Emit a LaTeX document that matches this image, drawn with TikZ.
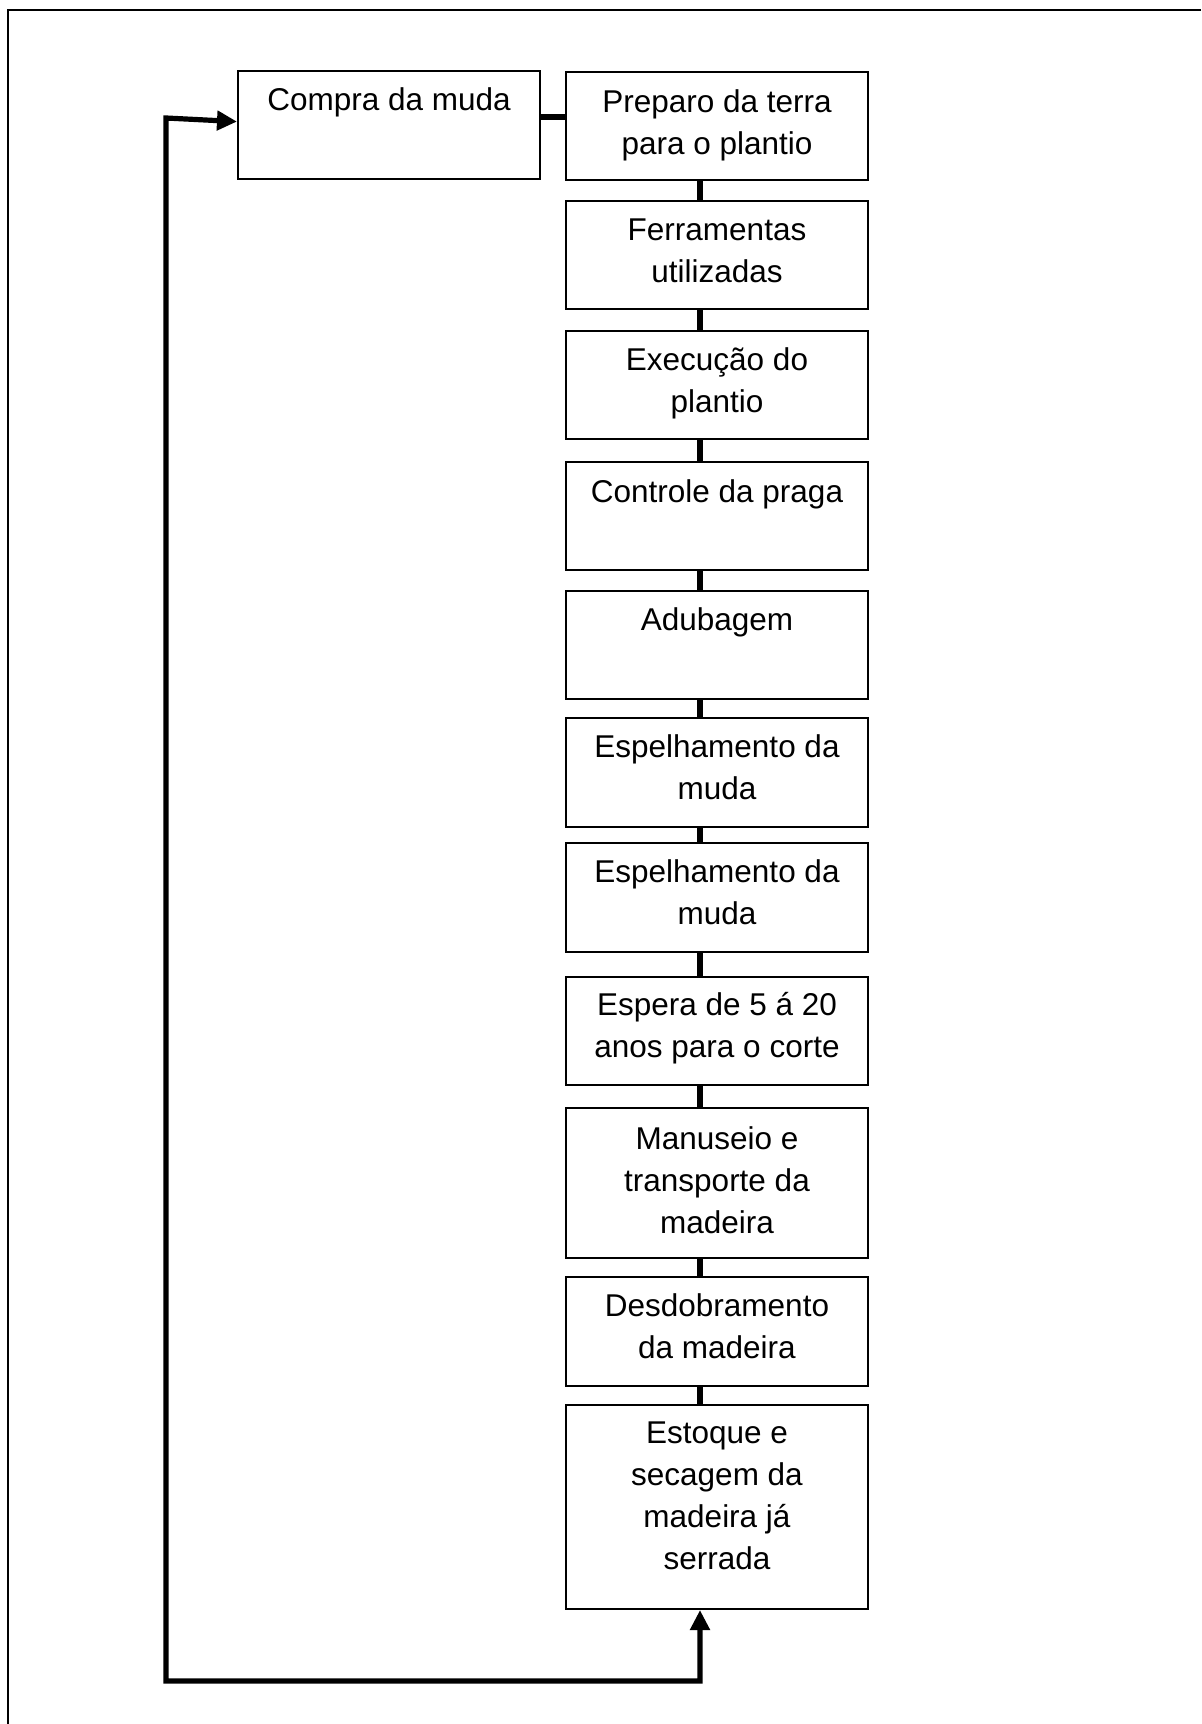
\documentclass[tikz,border=0pt]{standalone}
\usepackage{fontspec}
\setmainfont{Liberation Sans}
\usetikzlibrary{arrows.meta}
\tikzset{
  stepbox/.style={draw, line width=1pt, minimum width=151pt, inner sep=0pt, rectangle},
  lbl/.style={anchor=base, align=center, inner sep=0pt, font=\fontsize{15.75}{21}\selectfont},
  conn/.style={line width=2.8pt},
  loopline/.style={line width=2.6pt, line join=miter,
    {Triangle[length=10pt,width=9.5pt]}-{Triangle[length=10pt,width=9.5pt]}},
  frame/.style={line width=1pt}
}
\begin{document}
\begin{tikzpicture}[x=0.5pt,y=-0.5pt]
\useasboundingbox (0,0) rectangle (1201,1724);
\draw[frame] (1201,10) -- (8,10) -- (8,1724);
% boxes
\node[stepbox, minimum height=54pt] (com) at (389,125) {};
\node[stepbox, minimum height=54pt] (pre) at (717,126) {};
\node[stepbox, minimum height=54pt] (fer) at (717,255) {};
\node[stepbox, minimum height=54pt] (exe) at (717,385) {};
\node[stepbox, minimum height=54pt] (con) at (717,516) {};
\node[stepbox, minimum height=54pt] (adu) at (717,645) {};
\node[stepbox, minimum height=54.5pt] (es1) at (717,772.5) {};
\node[stepbox, minimum height=54.5pt] (es2) at (717,897.5) {};
\node[stepbox, minimum height=54.25pt] (esp) at (717,1030.75) {};
\node[stepbox, minimum height=75pt] (man) at (717,1183) {};
\node[stepbox, minimum height=54.5pt] (des) at (717,1331.5) {};
\node[stepbox, minimum height=102pt] (est) at (717,1507) {};
% texts (anchor base = last line's baseline)
\node[lbl] (tcom) at ([yshift=-20.3pt]com.north) {Compra da muda};
\node[lbl] (tpre) at ([yshift=-41.5pt]pre.north) {Preparo da terra\\para o plantio};
\node[lbl] (tfer) at ([yshift=-41.2pt]fer.north) {Ferramentas\\utilizadas};
\node[lbl] (texe) at ([yshift=-41.2pt]exe.north) {Execução do\\plantio};
\node[lbl] (tcon) at ([yshift=-20.5pt]con.north) {Controle da praga};
\node[lbl] (tadu) at ([yshift=-20pt]adu.north) {Adubagem};
\node[lbl] (tes1) at ([yshift=-41.2pt]es1.north) {Espelhamento da\\muda};
\node[lbl] (tes2) at ([yshift=-41.2pt]es2.north) {Espelhamento da\\muda};
\node[lbl] (tesp) at ([yshift=-41pt]esp.north) {Espera de 5 á 20\\anos para o corte};
\node[lbl] (tman) at ([yshift=-63pt]man.north) {Manuseio e\\transporte da\\madeira};
\node[lbl] (tdes) at ([yshift=-41pt]des.north) {Desdobramento\\da madeira};
\node[lbl] (test) at ([yshift=-82.5pt]est.north) {Estoque e\\secagem da\\madeira já\\serrada};
% connectors
\draw[conn] ([yshift=4pt]com.east) -- ([yshift=4pt]com.east -| pre.west);
\foreach \a/\b in {pre/fer,fer/exe,exe/con,con/adu,adu/es1,es1/es2,es2/esp,esp/man,man/des,des/est}{
  \draw[conn] ([xshift=-8.5pt]\a.south) -- ([xshift=-8.5pt]\b.north);
}
% loop
\coordinate (lt) at (166,118);
\coordinate (lb) at (166,1681);
\coordinate (rb) at (700,1681);
\draw[loopline] ([yshift=1.7pt]com.west) -- (lt) -- (lb) -- (rb) -- ([xshift=-8.5pt]est.south);
\end{tikzpicture}
\end{document}
